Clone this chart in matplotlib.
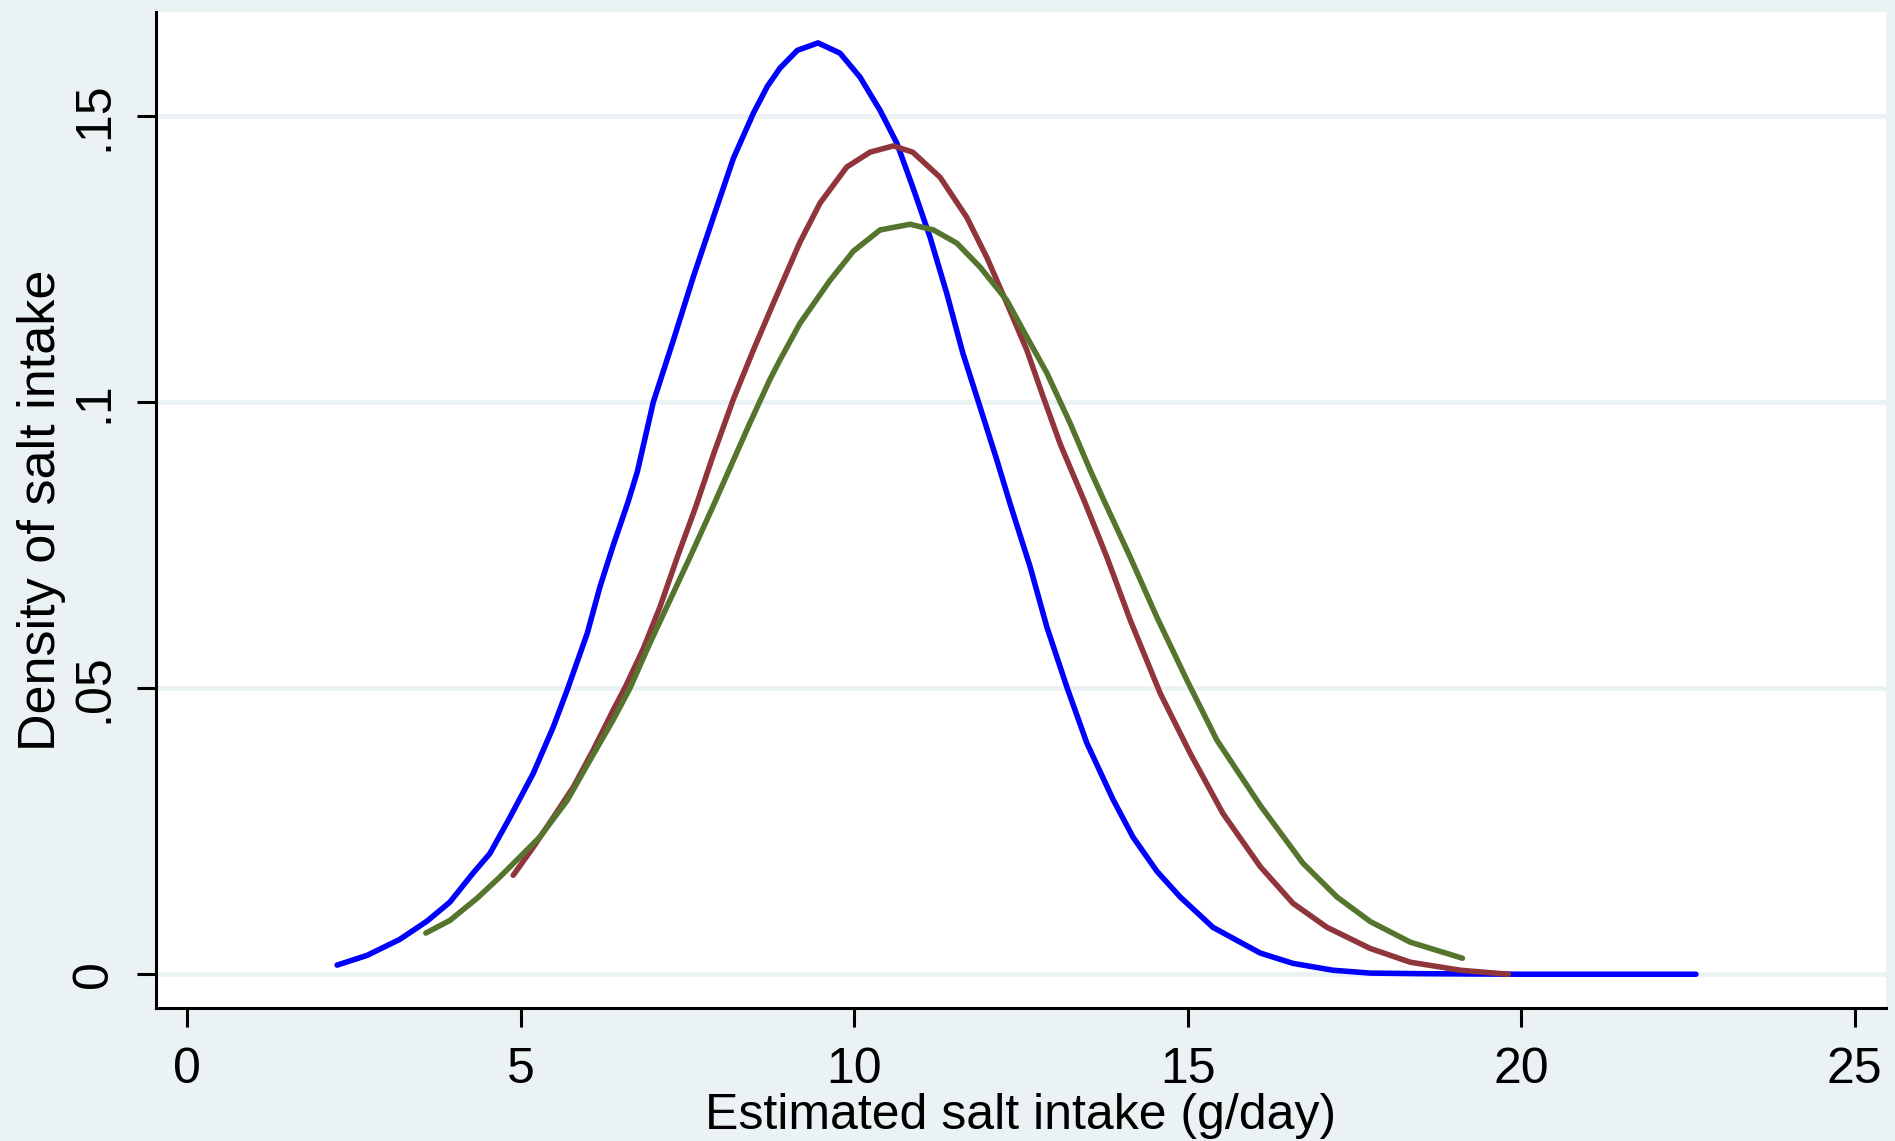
import matplotlib.pyplot as plt

# kernel density curves (salt intake g/day, density)
blue_x = [2.25, 2.70, 3.19, 3.60, 3.94, 4.29, 4.54, 4.84, 5.19, 5.49, 5.70, 6.00, 6.19, 6.39,
          6.61, 6.75, 6.99, 7.29, 7.59, 7.89, 8.19, 8.49, 8.70, 8.89, 9.15, 9.46, 9.79, 10.09,
          10.39, 10.64, 10.88, 11.14, 11.39, 11.63, 11.89, 12.14, 12.34, 12.64, 12.89, 13.19,
          13.49, 13.88, 14.18, 14.54, 14.89, 15.38, 16.09, 16.58, 17.18, 17.74, 18.5, 20.0, 22.62]
blue_y = [0.0016, 0.0033, 0.0061, 0.0093, 0.0126, 0.0177, 0.0211, 0.0274, 0.0351, 0.0432,
          0.0497, 0.0596, 0.0677, 0.0750, 0.0825, 0.0878, 0.1000, 0.1108, 0.1219, 0.1323,
          0.1426, 0.1505, 0.1552, 0.1584, 0.1615, 0.1628, 0.1610, 0.1568, 0.1510, 0.1453,
          0.1376, 0.1288, 0.1190, 0.1086, 0.0991, 0.0899, 0.0822, 0.0712, 0.0607, 0.0502,
          0.0404, 0.0306, 0.0240, 0.0180, 0.0135, 0.0082, 0.0037, 0.0019, 0.0007, 0.0002,
          0.0001, 0.0, 0.0]

red_x = [4.89, 5.19, 5.49, 5.79, 6.09, 6.39, 6.57, 6.84, 7.09, 7.35, 7.62, 7.89, 8.19, 8.49,
         8.79, 9.19, 9.49, 9.89, 10.24, 10.59, 10.88, 11.29, 11.69, 11.99, 12.29, 12.59, 12.83,
         13.09, 13.47, 13.79, 14.14, 14.59, 15.04, 15.53, 16.09, 16.58, 17.09, 17.74, 18.34,
         19.09, 19.81]
red_y = [0.0173, 0.0222, 0.0274, 0.0327, 0.0392, 0.0462, 0.0502, 0.0569, 0.0642, 0.0729,
         0.0815, 0.0908, 0.1005, 0.1091, 0.1173, 0.1280, 0.1348, 0.1411, 0.1437, 0.1448,
         0.1437, 0.1393, 0.1323, 0.1253, 0.1173, 0.1091, 0.1011, 0.0927, 0.0822, 0.0729,
         0.0619, 0.0491, 0.0386, 0.0281, 0.0188, 0.0124, 0.0082, 0.0045, 0.0021, 0.0007, 0.0]

green_x = [3.58, 3.94, 4.35, 4.69, 4.99, 5.29, 5.70, 6.04, 6.39, 6.64, 6.94, 7.24, 7.54, 7.89,
           8.14, 8.44, 8.74, 8.89, 9.19, 9.64, 9.99, 10.39, 10.84, 11.19, 11.54, 11.89, 12.29,
           12.59, 12.89, 13.24, 13.54, 13.77, 14.14, 14.54, 14.99, 15.44, 16.09, 16.73, 17.24,
           17.74, 18.34, 19.12]
green_y = [0.0072, 0.0094, 0.0133, 0.0170, 0.0205, 0.0240, 0.0304, 0.0374, 0.0445, 0.0500,
           0.0579, 0.0654, 0.0729, 0.0819, 0.0885, 0.0964, 0.1040, 0.1074, 0.1138, 0.1213,
           0.1264, 0.1301, 0.1311, 0.1301, 0.1278, 0.1236, 0.1178, 0.1114, 0.1051, 0.0963,
           0.0881, 0.0822, 0.0729, 0.0624, 0.0514, 0.0409, 0.0295, 0.0194, 0.0135, 0.0092,
           0.0056, 0.0028]

x_ticks = [0, 5, 10, 15, 20, 25]
y_ticks = [0, 0.05, 0.1, 0.15]
y_labels = ['0', '.05', '.1', '.15']


def main():
    plt.rcParams['font.family'] = ['Liberation Sans', 'DejaVu Sans']
    bg = '#EAF2F3'

    fig = plt.figure(figsize=(18.95, 11.41), dpi=100, facecolor=bg)
    ax = fig.add_axes([156 / 1895, 1 - 1008 / 1141, 1730 / 1895, 996 / 1141])
    ax.set_facecolor('white')

    style = dict(lw=4.0, solid_capstyle='round', solid_joinstyle='round')
    ax.plot(blue_x, blue_y, color='#0000FF', **style)
    ax.plot(red_x, red_y, color='#90353B', **style)
    ax.plot(green_x, green_y, color='#55752F', **style)

    ax.set_xlim(-0.465, 25.47)
    ax.set_ylim(-0.0059, 0.1682)
    ax.set_xticks(x_ticks)
    ax.set_yticks(y_ticks)
    ax.set_yticklabels(y_labels, rotation=90, va='center')

    ax.yaxis.grid(True, color=bg, lw=3.3)
    ax.set_axisbelow(True)

    for s in ['top', 'right']:
        ax.spines[s].set_visible(False)
    for s in ['left', 'bottom']:
        ax.spines[s].set_linewidth(2.2)
        ax.spines[s].set_color('black')

    ax.tick_params(axis='both', length=14, width=2.2, labelsize=36, colors='black')
    ax.tick_params(axis='x', pad=14)
    ax.tick_params(axis='y', pad=14)

    ax.set_xlabel('Estimated salt intake (g/day)', fontsize=36, labelpad=0)
    ax.set_ylabel('Density of salt intake', fontsize=37.5, labelpad=4)

    fig.savefig('out.png', dpi=100, facecolor=bg)


if __name__ == '__main__':
    main()
